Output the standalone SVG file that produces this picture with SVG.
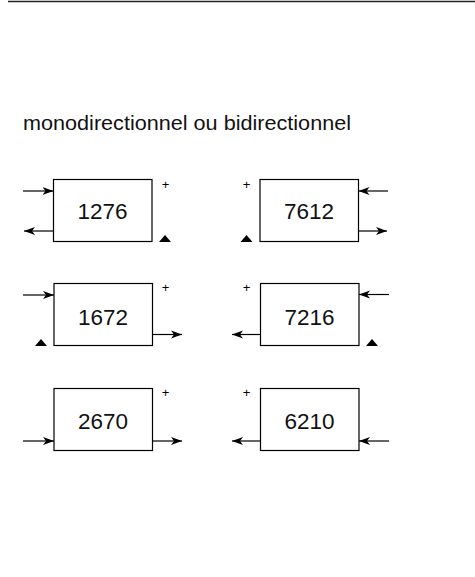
<svg xmlns="http://www.w3.org/2000/svg" width="475" height="577" viewBox="0 0 475 577">
<defs>
<marker id="ah" markerWidth="12" markerHeight="10" refX="11" refY="4.5" orient="auto" markerUnits="userSpaceOnUse">
<path d="M0,0.5 L11,4.5 L0,8.5 L3,4.5 Z" fill="#000"/>
</marker>
</defs>
<style>
.box{fill:#fff;stroke:#000;stroke-width:1.2}
.num{font-family:"Liberation Sans",Arial,sans-serif;font-size:22.5px;fill:#111;text-anchor:middle}
.plus{font-family:"Liberation Sans",Arial,sans-serif;font-size:13px;fill:#000;text-anchor:middle}
.tri{fill:#000}
.arr{stroke:#000;stroke-width:1.2;fill:none;marker-end:url(#ah)}
.lbl{font-family:"Liberation Sans",Arial,sans-serif;font-size:20.5px;fill:#111}
</style>
<rect width="475" height="577" fill="#fff"/>
<line x1="8" y1="1.5" x2="475" y2="1.5" stroke="#222" stroke-width="1.4"/>
<text class="lbl" x="23" y="130" textLength="328" lengthAdjust="spacingAndGlyphs">monodirectionnel ou bidirectionnel</text>

<g id="n1276">
<rect class="box" x="53.5" y="179.5" width="98.5" height="62"/>
<text class="num" x="102.5" y="219">1276</text>
<text class="plus" x="165.5" y="188.5">+</text>
<polygon class="tri" points="159,242 171,242 165,235"/>
</g>
<g id="n7612">
<rect class="box" x="260" y="179.5" width="98.5" height="62"/>
<text class="num" x="309" y="219">7612</text>
<text class="plus" x="246.5" y="188.5">+</text>
<polygon class="tri" points="240.5,242 252.5,242 246.5,235"/>
</g>
<g id="n1672">
<rect class="box" x="54" y="283.5" width="98.5" height="62"/>
<text class="num" x="103" y="325">1672</text>
<text class="plus" x="165.5" y="291.5">+</text>
<polygon class="tri" points="35,346 47,346 41,339"/>
</g>
<g id="n7216">
<rect class="box" x="260.5" y="283.5" width="98.5" height="62"/>
<text class="num" x="309.5" y="325">7216</text>
<text class="plus" x="246.5" y="291.5">+</text>
<polygon class="tri" points="366,346 378,346 372,339"/>
</g>
<g id="n2670">
<rect class="box" x="54" y="388.5" width="98.5" height="62"/>
<text class="num" x="103" y="429">2670</text>
<text class="plus" x="165.5" y="397">+</text>
</g>
<g id="n6210">
<rect class="box" x="260.5" y="388.5" width="98.5" height="62"/>
<text class="num" x="309.5" y="429">6210</text>
<text class="plus" x="246.5" y="397">+</text>
</g>

<g id="connectors">
<line class="arr" x1="23" y1="191" x2="53.5" y2="191"/>
<line class="arr" x1="53.5" y1="231" x2="24" y2="231"/>
<line class="arr" x1="388" y1="191" x2="358.5" y2="191"/>
<line class="arr" x1="358.5" y1="231" x2="387" y2="231"/>
<line class="arr" x1="23" y1="295" x2="54" y2="295"/>
<line class="arr" x1="152.5" y1="334.5" x2="182" y2="334.5"/>
<line class="arr" x1="389" y1="294.5" x2="359" y2="294.5"/>
<line class="arr" x1="260.5" y1="334.5" x2="232" y2="334.5"/>
<line class="arr" x1="23" y1="441" x2="54" y2="441"/>
<line class="arr" x1="152.5" y1="441" x2="182" y2="441"/>
<line class="arr" x1="260.5" y1="441" x2="232" y2="441"/>
<line class="arr" x1="389" y1="441" x2="359" y2="441"/>
</g>
</svg>
